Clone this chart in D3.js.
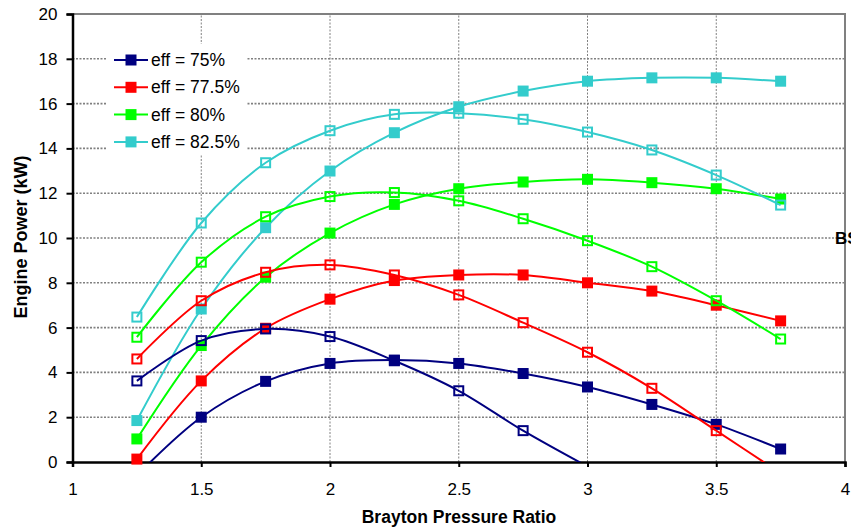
<!DOCTYPE html>
<html>
<head>
<meta charset="utf-8">
<title>Engine Power vs Brayton Pressure Ratio</title>
<style>
body {
    margin: 0px;
    overflow: hidden;
    background: #fff;
}
text {
    font-family: Arial, "Liberation Sans", sans-serif;
}
</style>
<script src="https://cdnjs.cloudflare.com/ajax/libs/d3/7.8.5/d3.min.js"></script>
<script>

// pressure ratios used for every curve
var ratios = [1.25, 1.5, 1.75, 2, 2.25, 2.5, 2.75, 3, 3.25, 3.5, 3.75];

var labels = ["eff = 75%", "eff = 77.5%", "eff = 80%", "eff = 82.5%"];
var colors = ["#000080", "#ff0000", "#00ff00", "#33cccc"];

// filled square curves
var filled75  = [-0.6, 2.0, 3.6, 4.4, 4.55, 4.4, 3.95, 3.35, 2.57, 1.68, 0.58];
var filled775 = [0.13, 3.62, 5.97, 7.27, 8.1, 8.35, 8.35, 8.0, 7.63, 7.0, 6.3];
var filled80  = [1.03, 5.2, 8.25, 10.22, 11.5, 12.2, 12.5, 12.62, 12.47, 12.2, 11.74];
var filled825 = [1.85, 6.83, 10.46, 12.99, 14.7, 15.86, 16.56, 17.0, 17.15, 17.15, 17.0];

// open square curves
var open75  = [3.62, 5.42, 5.94, 5.6, 4.52, 3.18, 1.4, -0.2];
var open775 = [4.6, 7.2, 8.47, 8.8, 8.35, 7.46, 6.22, 4.9, 3.29, 1.4, -0.5];
var open80  = [5.57, 8.92, 10.95, 11.85, 12.03, 11.66, 10.86, 9.88, 8.72, 7.2, 5.49];
var open825 = [6.47, 10.67, 13.36, 14.79, 15.52, 15.57, 15.3, 14.73, 13.93, 12.81, 11.47];

var xTicks = [1, 1.5, 2, 2.5, 3, 3.5, 4];
var yTicks = [0, 2, 4, 6, 8, 10, 12, 14, 16, 18, 20];

window.addEventListener("load", function(){

    var width = 851,
        height = 528;

    var svg = d3.select("#chart").append("svg")
            .attr("width", width)
            .attr("height", height);

    var x = d3.scaleLinear().domain([1, 4]).range([72.5, 845]);
    var y = d3.scaleLinear().domain([0, 20]).range([462, 14]);

    // grid
    svg.selectAll(".hgrid").data(yTicks.slice(1, -1)).enter().append("line")
        .attr("x1", x(1)).attr("x2", x(4))
        .attr("y1", function (d) { return y(d); })
        .attr("y2", function (d) { return y(d); })
        .attr("stroke", "#808080").attr("stroke-width", 1.6)
        .attr("stroke-dasharray", "2,1.5");
    svg.selectAll(".vgrid").data(xTicks.slice(1, -1)).enter().append("line")
        .attr("y1", y(0)).attr("y2", y(20))
        .attr("x1", function (d) { return x(d); })
        .attr("x2", function (d) { return x(d); })
        .attr("stroke", "#808080").attr("stroke-width", 1)
        .attr("stroke-dasharray", "2,1.5");

    // top and right border
    svg.append("path")
        .attr("d", "M" + x(1) + "," + y(20) + "H" + x(4) + "V" + y(0))
        .attr("fill", "none").attr("stroke", "#808080").attr("stroke-width", 2);

    // axes
    var xAxis = svg.append("g")
        .attr("transform", "translate(0," + y(0) + ")")
        .call(d3.axisBottom(x).tickValues(xTicks).tickSize(5).tickPadding(16)
            .tickFormat(function (d) { return d; }));
    var yAxis = svg.append("g")
        .attr("transform", "translate(" + x(1) + ",0)")
        .call(d3.axisLeft(y).tickValues(yTicks).tickSize(6).tickPadding(9));
    [xAxis, yAxis].forEach(function (g) {
        g.select(".domain").attr("stroke", "#000").attr("stroke-width", 2.5);
        g.selectAll(".tick line").attr("stroke", "#000").attr("stroke-width", 2);
        g.selectAll(".tick text").attr("fill", "#000")
            .style("font-size", "17px").style("font-family", "Arial, 'Liberation Sans', sans-serif");
    });

    svg.append("defs").append("clipPath").attr("id", "plot")
        .append("rect").attr("x", x(1)).attr("y", y(20))
        .attr("width", x(4) - x(1)).attr("height", y(0) - y(20));

    var line = d3.line()
        .x(function (d) { return x(d[0]); })
        .y(function (d) { return y(d[1]); })
        .curve(d3.curveCatmullRom.alpha(0.5));

    var filledSets = [filled75, filled775, filled80, filled825];
    var openSets = [open75, open775, open80, open825];

    function pairs(vals) {
        return vals.map(function (v, i) { return [ratios[i], v]; });
    }

    function drawSeries(vals, color, open) {
        var pts = pairs(vals);
        svg.append("path")
            .attr("clip-path", "url(#plot)")
            .attr("d", line(pts))
            .attr("fill", "none")
            .attr("stroke", color)
            .attr("stroke-width", 2);
        var s = open ? 9 : 11;
        svg.append("g").selectAll("rect")
            .data(pts.filter(function (p) { return p[1] >= 0; }))
            .enter().append("rect")
            .attr("x", function (d) { return x(d[0]) - s / 2; })
            .attr("y", function (d) { return y(d[1]) - s / 2; })
            .attr("width", s).attr("height", s)
            .attr("fill", open ? "#fff" : color)
            .attr("fill-opacity", open ? 0 : 1)
            .attr("stroke", open ? color : "none")
            .attr("stroke-width", 2);
    }

    filledSets.forEach(function (vals, i) { drawSeries(vals, colors[i], false); });
    openSets.forEach(function (vals, i) { drawSeries(vals, colors[i], true); });

    // legend
    var legend = svg.append("g");
    legend.append("rect")
        .attr("x", 106).attr("y", 44).attr("width", 141).attr("height", 111)
        .attr("fill", "#fff");
    labels.forEach(function (lab, i) {
        var ly = 60 + i * 27.3;
        legend.append("line")
            .attr("x1", 114).attr("x2", 148).attr("y1", ly).attr("y2", ly)
            .attr("stroke", colors[i]).attr("stroke-width", 2);
        legend.append("rect")
            .attr("x", 125.5).attr("y", ly - 5.5).attr("width", 11).attr("height", 11)
            .attr("fill", colors[i]);
        legend.append("text")
            .attr("x", 151).attr("y", ly + 6)
            .style("font-size", "17.5px")
            .text(lab);
    });

    // axis titles
    svg.append("text")
        .attr("x", 459).attr("y", 523)
        .attr("text-anchor", "middle")
        .style("font-size", "17.5px").style("font-weight", "bold")
        .text("Brayton Pressure Ratio");
    svg.append("text")
        .attr("transform", "translate(27,237) rotate(-90)")
        .attr("text-anchor", "middle")
        .style("font-size", "18px").style("font-weight", "bold")
        .text("Engine Power (kW)");

    // label cut off at the right edge, as in the source image
    svg.append("text")
        .attr("x", 835).attr("y", 244)
        .style("font-size", "17px").style("font-weight", "bold")
        .text("BSFC");

},false);

</script>
</head>
<body>
<div id="chart"></div>
</body>
</html>
